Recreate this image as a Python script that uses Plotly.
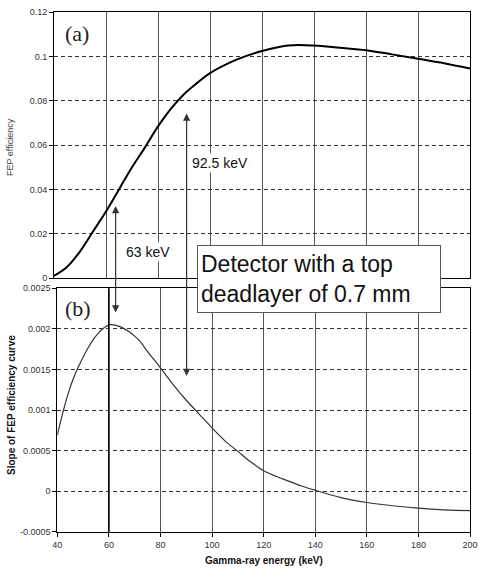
import plotly.graph_objects as go

# ---------------- data ----------------
energy_top = [40, 45, 50, 55, 60, 65, 70, 75, 80, 85, 90, 95, 100, 110, 120, 130, 140, 150, 160, 170, 180, 190, 200]
fep_eff = [0.001, 0.005, 0.012, 0.021, 0.030, 0.040, 0.050, 0.059, 0.0685, 0.0765, 0.083, 0.088, 0.0925,
           0.0985, 0.1025, 0.105, 0.105, 0.104, 0.1029, 0.101, 0.099, 0.097, 0.0946]

energy_bot = [40, 42, 44, 46, 48, 50, 52, 54, 56, 58, 60, 62, 64, 66, 68, 70, 72, 75, 80, 85, 90, 95, 100,
              105, 110, 115, 120, 125, 130, 135, 140, 150, 160, 170, 180, 190, 200]
slope = [0.00069, 0.00095, 0.00118, 0.00137, 0.00152, 0.00165, 0.00177, 0.00187, 0.00195, 0.00201, 0.00205,
         0.00205, 0.00203, 0.00200, 0.00196, 0.00191, 0.00185, 0.00172, 0.00152, 0.00131, 0.00112, 0.00095,
         0.00078, 0.00062, 0.00049, 0.00036, 0.00025, 0.00018, 0.00012, 0.00006, 0.00001, -0.00008, -0.00014,
         -0.00018, -0.00021, -0.00023, -0.00024]

x_ticks = [40, 60, 80, 100, 120, 140, 160, 180, 200]
x_ticktext = ["40", "60", "80", "100", "120", "140", "160", "180", "200"]
top_ticks = [0, 0.02, 0.04, 0.06, 0.08, 0.1, 0.12]
top_ticktext = ["0", "0.02", "0.04", "0.06", "0.08", "0.1", "0.12"]
bot_ticks = [-0.0005, 0, 0.0005, 0.001, 0.0015, 0.002, 0.0025]
bot_ticktext = ["-0.0005", "0", "0.0005", "0.001", "0.0015", "0.002", "0.0025"]

arrow_63 = 63.7
arrow_925 = 91.0

W, H = 479, 571
def px(x):
    return x / W
def py(y):
    return 1 - y / H

fig = go.Figure()
fig.add_trace(go.Scatter(x=energy_top, y=fep_eff, mode="lines", line=dict(color="black", width=2, shape="spline"),
                         xaxis="x", yaxis="y", showlegend=False))
fig.add_trace(go.Scatter(x=energy_bot, y=slope, mode="lines", line=dict(color="#333", width=1.2, shape="spline"),
                         xaxis="x2", yaxis="y2", showlegend=False))

tickfont = dict(family="Liberation Sans, Arial", size=9, color="#333")
common_x = dict(range=[40, 200], tickvals=x_ticks, ticktext=x_ticktext, showgrid=True, gridcolor="#555",
                gridwidth=1, showline=True, linecolor="black", linewidth=1, mirror=True, zeroline=False,
                tickfont=tickfont, automargin=False, ticklabeloverflow="allow")
common_y = dict(showgrid=True, gridcolor="#333", griddash="4px,3px", gridwidth=1, showline=True,
                linecolor="black", linewidth=1, mirror=True, zeroline=False, ticks="outside", ticklen=4,
                tickcolor="black", tickfont=tickfont, automargin=False, ticklabeloverflow="allow")

fig.update_layout(
    width=W, height=H, margin=dict(l=0, r=0, t=0, b=0, pad=0),
    paper_bgcolor="white", plot_bgcolor="white",
    xaxis=dict(domain=[px(54), px(470)], anchor="y", showticklabels=False, **common_x),
    yaxis=dict(domain=[py(278), py(12.3)], anchor="x", range=[0, 0.12], tickvals=top_ticks,
               ticktext=top_ticktext, **common_y),
    xaxis2=dict(domain=[px(57.3), px(470)], anchor="y2", ticks="outside", ticklen=4, tickcolor="black", **common_x),
    yaxis2=dict(domain=[py(531.7), py(288.3)], anchor="x2", range=[-0.0005, 0.0025], tickvals=bot_ticks,
                ticktext=bot_ticktext, **common_y),
)

# heavier 60 keV line in lower panel
fig.add_shape(type="line", xref="x2", yref="y2 domain", x0=60, x1=60, y0=0, y1=1,
              line=dict(color="black", width=1.6))

def txt(text, x, y, size, color="#111", family="Liberation Sans, Arial", **kw):
    d = dict(text=text, x=px(x), y=py(y), xref="paper", yref="paper", xanchor="center", yanchor="middle",
             showarrow=False, font=dict(family=family, size=size, color=color))
    d.update(kw)
    return d

annos = []
# panel labels
annos.append(txt("(a)", 76.7, 33.5, 22, "#222", "Liberation Serif, Times New Roman"))
annos.append(txt("(b)", 78.3, 308.5, 22, "#222", "Liberation Serif, Times New Roman"))
# double arrows
annos.append(dict(text="", x=arrow_63, y=0.0325, xref="x", yref="y", showarrow=True, ax=0, ay=108,
                  arrowside="end+start", arrowhead=2, arrowsize=1.2, arrowwidth=1.2, arrowcolor="#333"))
annos.append(dict(text="", x=arrow_925, y=0.0743, xref="x", yref="y", showarrow=True, ax=0, ay=264,
                  arrowside="end+start", arrowhead=2, arrowsize=1.2, arrowwidth=1.2, arrowcolor="#333"))
# labels
annos.append(txt("92.5 keV", 220, 163, 14, bgcolor="white"))
annos.append(txt("63 keV", 148, 252, 14, bgcolor="white"))
annos.append(txt("Detector with a top<br>deadlayer of 0.7 mm", 319, 279, 23, align="left", valign="middle",
                 width=236, height=60, bgcolor="white", bordercolor="#555", borderwidth=1, borderpad=3))
# axis titles
annos.append(txt("FEP efficiency", 10, 147, 9, "#444", textangle=-90))
annos.append(txt("<b>Slope of FEP efficiency curve</b>", 11, 405, 10, textangle=-90))
annos.append(txt("<b>Gamma-ray energy (keV)</b>", 264, 560.5, 10))
fig.update_layout(annotations=annos)

fig.write_html("out.html")
